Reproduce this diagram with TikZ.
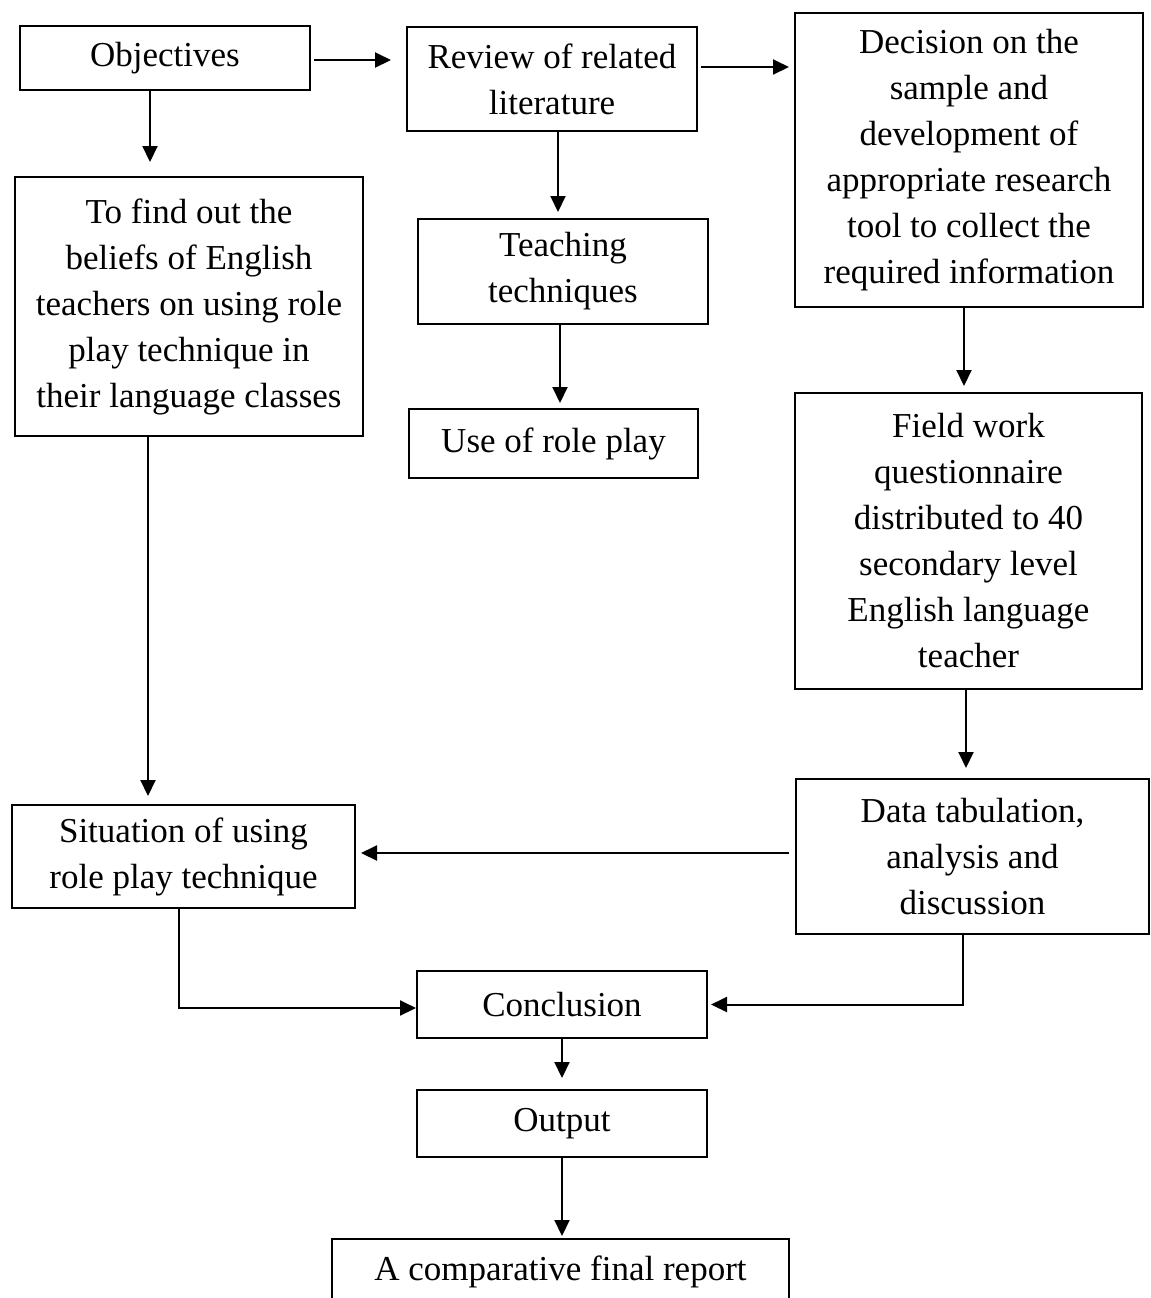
\documentclass[tikz,border=0pt]{standalone}
\usepackage{fontspec}
\setmainfont{Liberation Serif}
\usetikzlibrary{arrows.meta}

\tikzset{
  box/.style={draw, line width=1pt, align=center, inner sep=0pt,
    font=\fontsize{17.5}{23}\selectfont},
  arr/.style={-{Triangle[length=8pt,width=7.5pt]}, line width=1pt}
}

\begin{document}
\begin{tikzpicture}[x=0.5pt,y=0.5pt,yscale=-1,xscale=1]
\useasboundingbox (0,0) rectangle (1151,1298);

% Boxes
\node[box, minimum width=145pt, minimum height=32pt] (obj) at (165,58) {Objectives};
\node[box, minimum width=145pt, minimum height=52pt] (rev) at (552,79) {Review of related\\literature};
\node[box, minimum width=174pt, minimum height=147pt] (dec) at (969,160) {Decision on the\\sample and\\development of\\appropriate research\\tool to collect the\\required information};
\node[box, minimum width=174pt, minimum height=129.5pt] (find) at (189,306.5) {To find out the\\beliefs of English\\teachers on using role\\play technique in\\their language classes};
\node[box, minimum width=145pt, minimum height=52.5pt] (teach) at (563,271.5) {Teaching\\techniques};
\node[box, minimum width=144.5pt, minimum height=34.5pt] (use) at (553.5,443.5) {Use of role play};
\node[box, minimum width=173.5pt, minimum height=148pt] (field) at (968.5,541) {Field work\\questionnaire\\distributed to 40\\secondary level\\English language\\teacher};
\node[box, minimum width=176.5pt, minimum height=77.5pt] (data) at (972.5,856.5) {Data tabulation,\\analysis and\\discussion};
\node[box, minimum width=171.5pt, minimum height=51.5pt] (sit) at (183.5,856.5) {Situation of using\\role play technique};
\node[box, minimum width=145pt, minimum height=33.5pt] (conc) at (562,1004.5) {Conclusion};
\node[box, minimum width=145pt, minimum height=33.5pt] (out) at (562,1123.5) {Output};
\node[box, minimum width=228.5pt, minimum height=33pt] (final) at (560.5,1272) {A comparative final report};

% Connector points (yshift is flipped by yscale=-1)
\coordinate (objout) at ([yshift=1pt]obj.east);
\coordinate (revout) at ([yshift=-6pt]rev.east);
\coordinate (objdn) at ([xshift=-7.5pt]obj.south);
\coordinate (revdn) at ([xshift=3pt]rev.south);
\coordinate (teachdn) at ([xshift=-1.5pt]teach.south);
\coordinate (decdn) at ([xshift=-2.5pt]dec.south);
\coordinate (fielddn) at ([xshift=-1.25pt]field.south);
\coordinate (finddn) at ([xshift=-20.5pt]find.south);
\coordinate (dataout) at ([yshift=-1.75pt]data.west);
\coordinate (sitdn) at ([xshift=-2.25pt]sit.south);
\coordinate (concin) at ([yshift=1.75pt]conc.west);
\coordinate (datadn) at ([xshift=-5pt]data.south);

% Arrows
\draw[arr, shorten <=1.5pt, shorten >=7.5pt] (objout) -- (objout -| rev.west);
\draw[arr, shorten <=1.5pt, shorten >=2.5pt] (revout) -- (revout -| dec.west);
\draw[arr, shorten >=7pt] (objdn) -- (objdn |- find.north);
\draw[arr, shorten >=3pt] (revdn) -- (revdn |- teach.north);
\draw[arr, shorten >=2.5pt] (teachdn) -- (teachdn |- use.north);
\draw[arr, shorten >=3pt] (decdn) -- (decdn |- field.north);
\draw[arr, shorten >=5pt] (fielddn) -- (fielddn |- data.north);
\draw[arr, shorten >=4pt] (finddn) -- (finddn |- sit.north);
\draw[arr, shorten <=3pt, shorten >=2.5pt] (dataout) -- (dataout -| sit.east);
\draw[arr] (sitdn) |- (concin);
\draw[arr, shorten >=1.5pt] (datadn) |- (conc.east);
\draw[arr, shorten >=5.5pt] (conc.south) -- (out.north);
\draw[arr, shorten >=1pt] (out.south) -- (out.south |- final.north);

\end{tikzpicture}
\end{document}
